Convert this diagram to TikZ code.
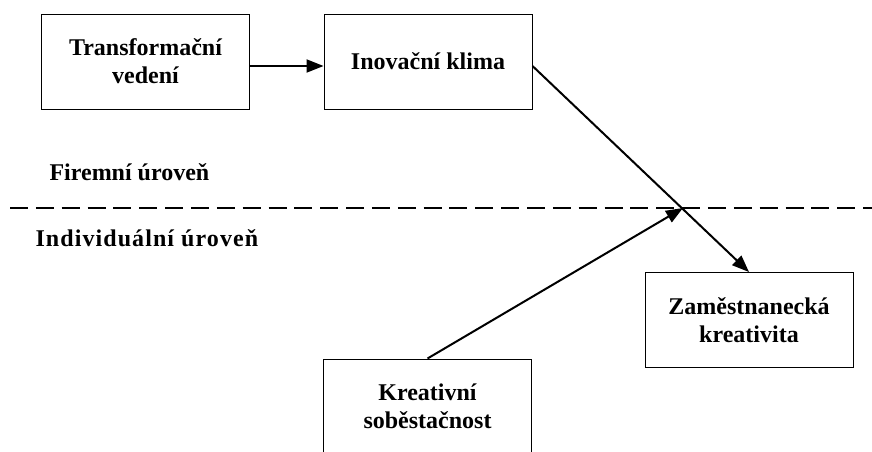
\documentclass[tikz,border=0pt]{standalone}
\usepackage{fontspec}
\setmainfont{Liberation Serif}
\usetikzlibrary{arrows.meta}
\begin{document}
\begin{tikzpicture}[x=1pt,y=-1pt,
  every node/.style={font=\bfseries\fontsize{24}{28}\selectfont},
  factor/.style={draw,line width=1pt,minimum width=208pt,minimum height=95pt,inner sep=0pt,align=center},
  link/.style={line width=2pt,-{Triangle[length=17pt,width=13pt]}},
  levelsep/.style={line width=2pt,dash pattern=on 18pt off 7.85pt},
  widelabel/.style={font=\bfseries\fontsize{24}{28}\selectfont\addfontfeatures{LetterSpace=4.5}}]
  \useasboundingbox (0,0) rectangle (872,451);

  % factor boxes
  \node[factor] (b1) at (145.5,61.5) {Transformační\\vedení};
  \node[factor] (b2) at (428,61.5) {Inovační klima};
  \node[factor] (b3) at (749,320) {Zaměstnanecká\\kreativita};
  \node[factor] (b4) at (427.5,406.5) {Kreativní\\soběstačnost};

  % boundary between the two levels
  \coordinate (sepL) at (10,208);
  \coordinate (sepR) at (872,208);
  \draw[levelsep] (sepL) -- (sepR);
  \node[anchor=base west] (firm) at (46,180) {Firemní úroveň};
  \node[anchor=base west,widelabel] (indiv) at (32,246) {Individuální úroveň};

  % relations
  \coordinate (cross) at (683,208);
  \draw[link] ([yshift=-4.5pt]b1.east) -- ([yshift=-4.5pt]b2.west);
  \draw[link] ([yshift=-4.5pt]b2.east) -- (b3.north);
  \draw[link] (b4.north) -- (cross);
\end{tikzpicture}
\end{document}
